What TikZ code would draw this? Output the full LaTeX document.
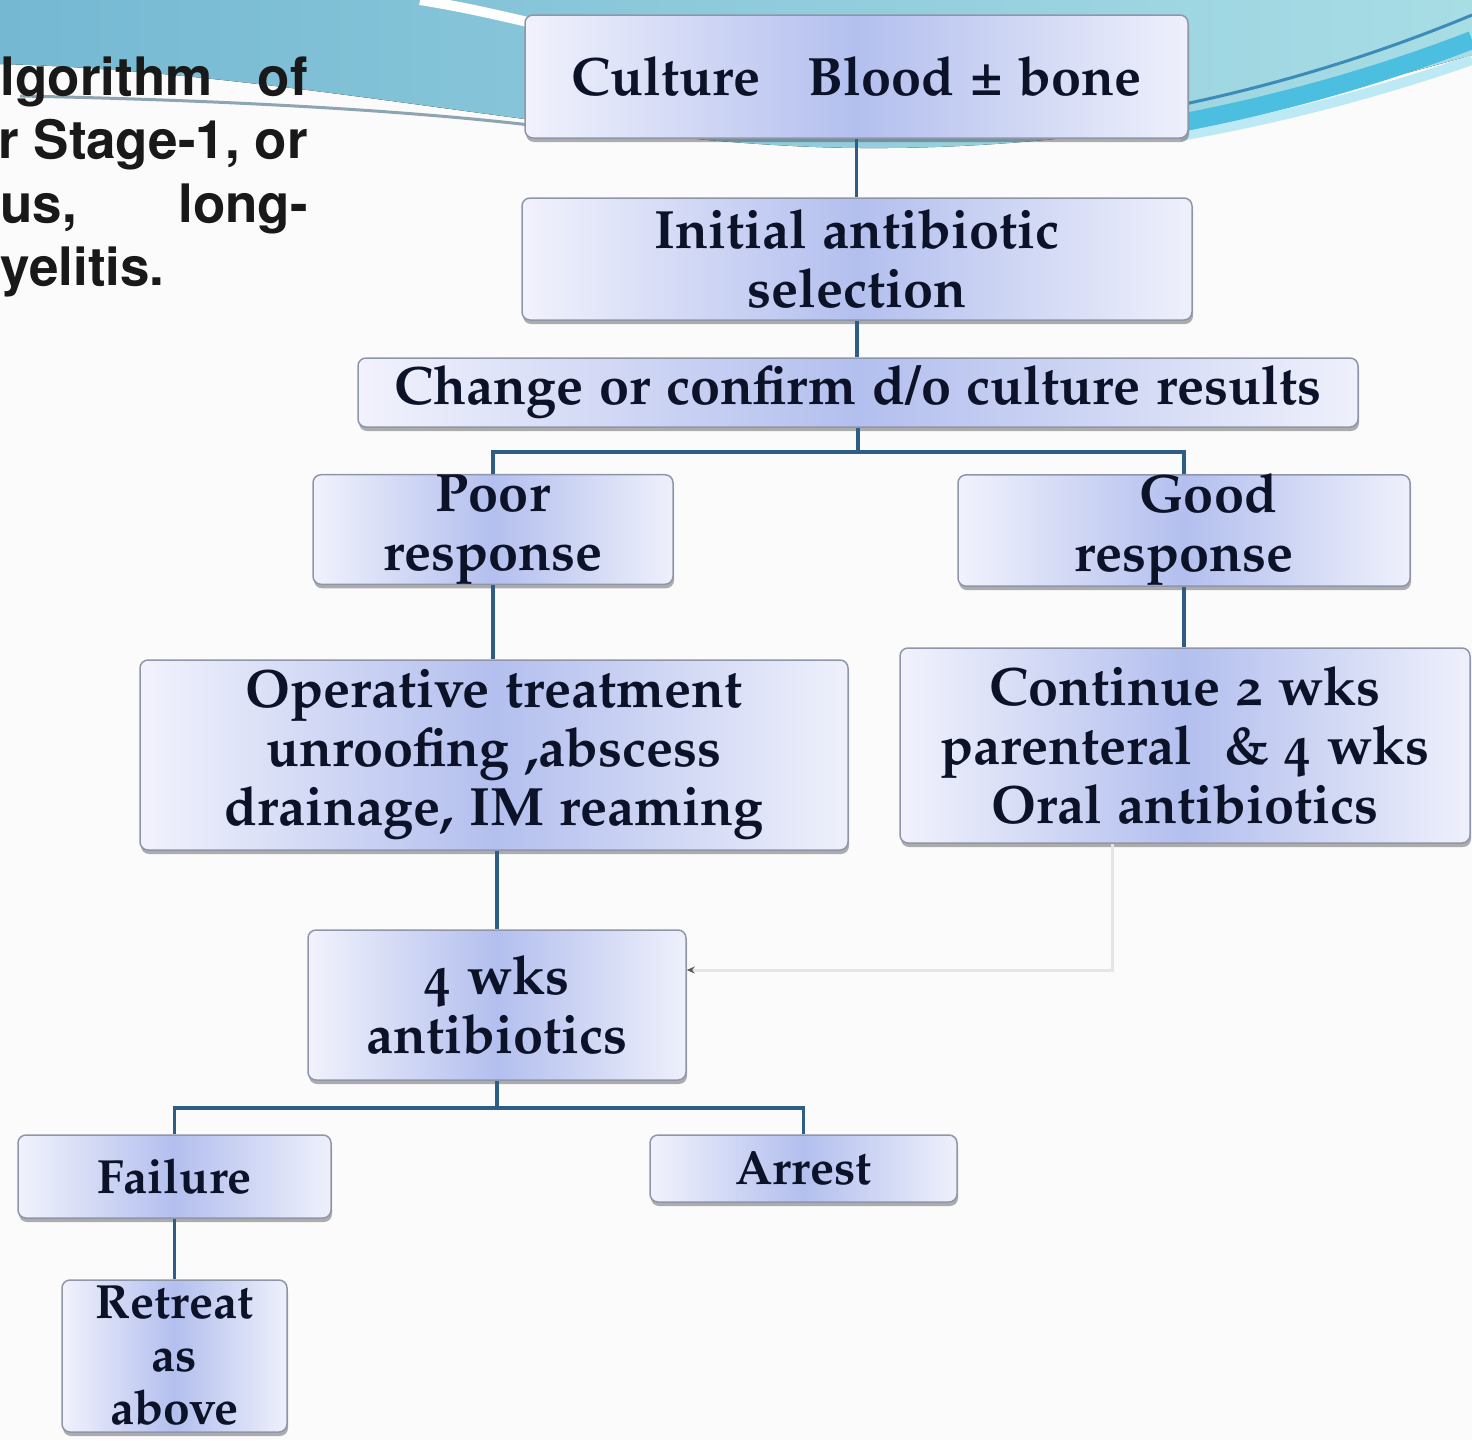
\documentclass[tikz,border=0pt]{standalone}
\usepackage[T1]{fontenc}
\usepackage[osf]{mathpazo}
\usepackage{textcomp}
\usetikzlibrary{shadows,arrows.meta,calc}
\definecolor{tealL}{HTML}{74B8D2}
\definecolor{tealR}{HTML}{A8DDE5}
\definecolor{stripeD}{HTML}{3C8CB8}
\definecolor{stripeC}{HTML}{4CBFE0}
\definecolor{stripeL}{HTML}{BDE9F4}
\definecolor{swgray}{HTML}{8DA5B2}
\definecolor{boxL}{HTML}{F1F2FC}
\definecolor{boxM}{HTML}{B3BFEE}
\definecolor{boxR}{HTML}{EEF0FB}
\definecolor{boxline}{HTML}{9096AA}
\definecolor{txt}{HTML}{0C1228}
\definecolor{conn}{HTML}{2E5E85}
\definecolor{faintc}{HTML}{E3E5EA}
\definecolor{bg}{HTML}{FBFBFC}
\begin{document}
\begin{tikzpicture}[x=1pt,y=-1pt,
  fbox/.style={draw=boxline, line width=1.5pt, rounded corners=8pt,
    left color=boxL, right color=boxR, middle color=boxM,
    drop shadow={shadow xshift=1pt, shadow yshift=-4pt, opacity=0.45, fill=black!70},
    inner sep=0pt, align=center, text=txt,
    font=\bfseries\fontsize{54}{59}\selectfont},
  sbox/.style={fbox, font=\bfseries\fontsize{48}{53}\selectfont},
  connline/.style={draw=conn, line width=3.5pt},
  faintline/.style={draw=faintc, line width=3pt},
  lefttxt/.style={inner sep=0pt, text=black!90, font=\fontfamily{phv}\bfseries\fontsize{53}{63}\selectfont}
]
\useasboundingbox (0,0) rectangle (1472,1440);
\fill[bg] (0,0) rectangle (1472,1440);
% top background
\fill[left color=tealL, right color=tealR] (0,0) -- (1472,0) -- (1472,55)
  .. controls (1330,95) and (1120,150) .. (860,148)
  .. controls (600,146) and (300,72) .. (0,64) -- cycle;
\draw[white, line width=10pt] (420,0) .. controls (470,8) and (510,18) .. (545,26);
\draw[swgray, line width=3pt] (20,96) .. controls (220,100) and (400,110) .. (530,125);
\draw[stripeL, line width=10pt] (1180,136) .. controls (1300,115) and (1400,85) .. (1472,60);
\draw[stripeC, line width=18pt] (1180,123) .. controls (1300,100) and (1400,68) .. (1472,40);
\draw[stripeD, line width=3pt] (1180,105) .. controls (1300,80) and (1400,45) .. (1472,15);
% left clipped text
\node[lefttxt, anchor=base east] (t1a) at (213,95) {lgorithm};
\node[lefttxt, anchor=base east] (t1b) at (308,95) {of};
\node[lefttxt, anchor=base east] (t2) at (308,158) {r Stage-1, or};
\node[lefttxt, anchor=base west] (t3a) at (0,222) {us,};
\node[lefttxt, anchor=base east] (t3b) at (308,222) {long-};
\node[lefttxt, anchor=base west] (t4) at (0,285) {yelitis.};
% boxes
\node[fbox, minimum width=663, minimum height=123] (culture) at (856.5,76.5) {Culture\ \ \ Blood \textpm\ bone};
\node[fbox, minimum width=670, minimum height=122] (initial) at (857,259) {Initial antibiotic\\selection};
\node[fbox, minimum width=1000, minimum height=69] (change) at (858,392.5) {Change or confirm d/o culture results};
\node[fbox, minimum width=360, minimum height=107] (poor) at (493,529.5) {Poor\\response};
\node[fbox, minimum width=452, minimum height=93] (good) at (1184,530.5) {\hspace*{48pt}Good\\response};
\node[fbox, minimum width=708, minimum height=190] (oper) at (494,755) {Operative treatment\\unroofing ,abscess\\drainage, IM reaming};
\node[fbox, minimum width=570, minimum height=195] (cont) at (1185,745.5) {Continue 2 wks\\parenteral\ \ \& 4 wks\\Oral antibiotics};
\node[fbox, minimum width=378, minimum height=150] (four) at (497,1005) {4 wks\\antibiotics};
\node[sbox, minimum width=313, minimum height=83] (fail) at (174.5,1176.5) {Failure};
\node[sbox, minimum width=307, minimum height=67] (arrest) at (803.5,1168.5) {Arrest};
\node[sbox, minimum width=225, minimum height=152] (retreat) at (174.5,1356) {Retreat\\as\\above};
% connectors
\coordinate (j1) at (858,452);
\coordinate (j2) at (497,1108);
\coordinate (f1) at (1112,970);
\draw[connline] (culture.south) -- (culture.south |- initial.north);
\draw[connline] (initial.south) -- (initial.south |- change.north);
\draw[connline] (change.south) -- (j1);
\draw[connline] (j1) -| (poor.north);
\draw[connline] (j1) -| (good.north);
\draw[connline] (poor.south) -- (poor.south |- oper.north);
\draw[connline] (good.south) -- (good.south |- cont.north);
\draw[connline] (four.north |- oper.south) -- (four.north);
\draw[connline] (four.south) -- (j2);
\draw[connline] (j2) -| (fail.north);
\draw[connline] (j2) -| (arrest.north);
\draw[connline] (fail.south) -- (fail.south |- retreat.north);
\draw[faintline, -{Stealth[length=8pt,width=7pt,color=black!65]}] (cont.south -| f1) -- (f1) -- (four.east |- f1);
\end{tikzpicture}
\end{document}
